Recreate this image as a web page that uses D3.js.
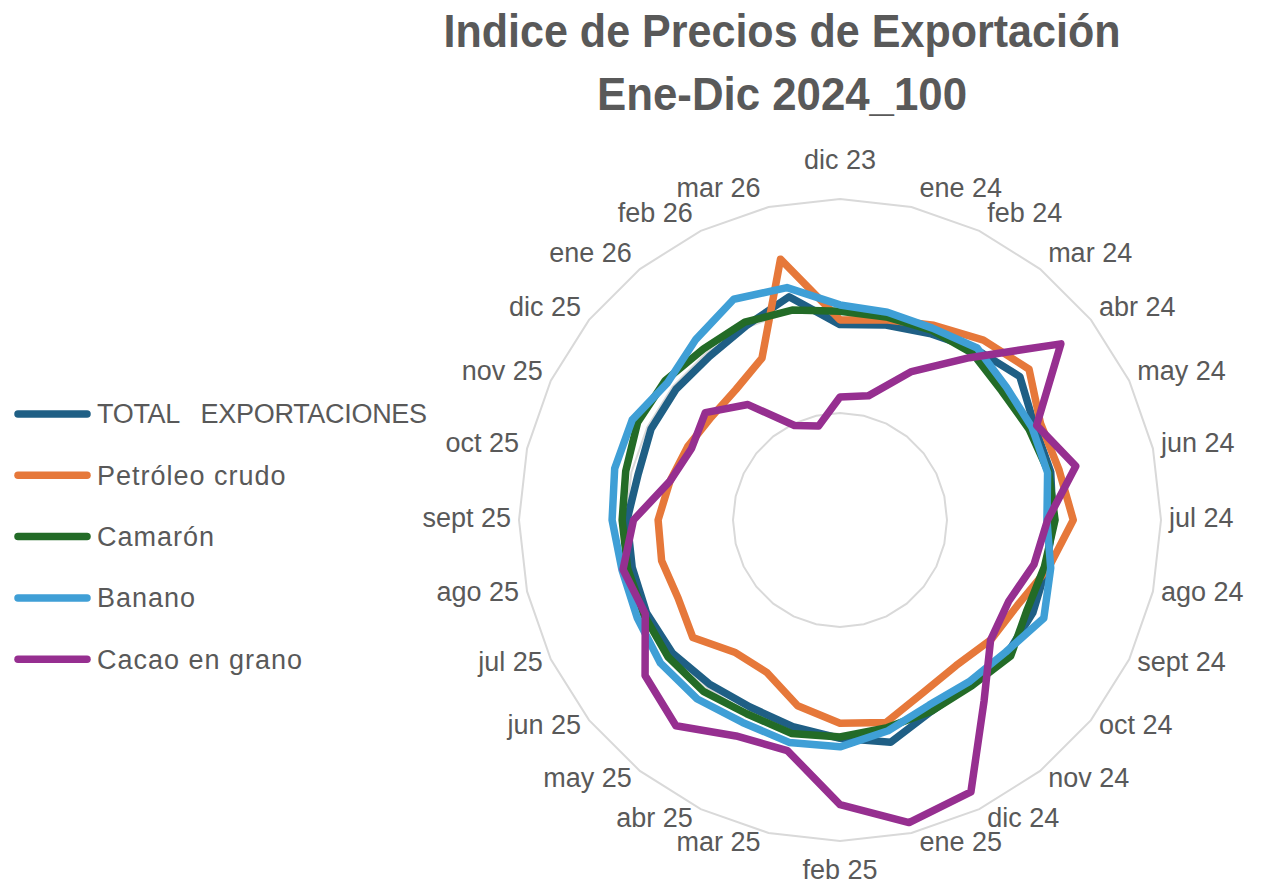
<!DOCTYPE html>
<html>
<head>
<meta charset="utf-8">
<script src="https://cdn.jsdelivr.net/npm/d3@7"></script>
<style>
  body { margin: 0; background: #fff; }
  text { font-family: "Liberation Sans", Arial, sans-serif; fill: #595959; }
</style>
</head>
<body>
<script>
// categories (months), clockwise from the top
var categories = ["dic 23", "ene 24", "feb 24", "mar 24", "abr 24", "may 24", "jun 24",
    "jul 24", "ago 24", "sept 24", "oct 24", "nov 24", "dic 24", "ene 25", "feb 25",
    "mar 25", "abr 25", "may 25", "jun 25", "jul 25", "ago 25", "sept 25", "oct 25",
    "nov 25", "dic 25", "ene 26", "feb 26", "mar 26"];

var seriesNames = ["TOTAL   EXPORTACIONES", "Petróleo crudo", "Camarón", "Banano", "Cacao en grano"];

var total    = [91.3, 93.5, 96.7, 102, 107.5, 101, 101, 99.5, 99, 100, 100, 98, 99, 106.5, 102,
                99, 97, 98, 100, 100.3, 99.6, 99.5, 96.7, 98, 98, 97.8, 100.8, 107];
var petroleo = [93.5, 96, 101, 107.5, 113, 104, 105, 109, 100, 92, 90, 87, 89.5, 97, 95,
                89, 79, 79, 88, 84, 85.5, 85, 81.5, 79, 77, 78, 84, 125];
var camaron  = [97.5, 97.3, 98.5, 99.5, 96.7, 98, 100, 100.5, 98, 97, 102, 99, 99, 99.5, 101.4,
                102.3, 100.5, 102.4, 102.7, 101.8, 101.8, 101.8, 102.7, 105, 104.5, 102.3, 102.6, 100.6];
var banano   = [100.5, 99.6, 99.5, 102.8, 99.5, 99.6, 99.5, 96.7, 101, 105.7, 99, 96.7, 96, 101, 106,
                106.6, 105, 107, 107.3, 105.2, 104.5, 106.5, 108, 107.8, 103, 108, 114.5, 111.4];
var cacao    = [57.5, 59.5, 77, 97, 132, 102, 113, 97, 93, 87.5, 90, 108, 141, 145, 133,
                110.5, 112, 123, 116.5, 101, 104, 96.5, 81.5, 77, 80.5, 69, 49, 45];

var ringValues = [50, 100, 150];
var colors = ["#1f5f85", "#e6783a", "#236b27", "#3f9fd6", "#962f90"];

var series = [total, petroleo, camaron, banano, cacao].map(function(v, i) {
    return {name: seriesNames[i], values: v, color: colors[i]};
});

var width = 1282, height = 896;
var cx = 840, cy = 520;

var svg = d3.select("body").append("svg")
    .attr("width", width)
    .attr("height", height);

// title
svg.append("text")
    .attr("x", 782).attr("y", 47)
    .attr("text-anchor", "middle")
    .attr("textLength", 677).attr("lengthAdjust", "spacingAndGlyphs")
    .style("font-size", "46px").style("font-weight", "bold")
    .text("Indice de Precios de Exportación");
svg.append("text")
    .attr("x", 782).attr("y", 110)
    .attr("text-anchor", "middle")
    .attr("textLength", 370).attr("lengthAdjust", "spacingAndGlyphs")
    .style("font-size", "46px").style("font-weight", "bold")
    .text("Ene-Dic 2024_100");

var r = d3.scaleLinear().domain([0, 150]).range([0, 321]);
var angle = d3.scaleLinear().domain([0, categories.length]).range([0, 2 * Math.PI]);

var g = svg.append("g")
    .attr("transform", "translate(" + cx + "," + cy + ")");

// grid rings (polygons)
g.append("g").attr("class", "rings")
    .selectAll("path")
    .data(ringValues)
    .enter().append("path")
    .attr("d", function(v) {
        return d3.lineRadial()
            .angle(function(d, i) { return angle(i); })
            .radius(r(v))
            .curve(d3.curveLinearClosed)(categories);
    })
    .attr("fill", "none")
    .attr("stroke", "#d9d9d9")
    .attr("stroke-width", 2);

// category labels
var rMax = r(150);
g.append("g").attr("class", "labels")
    .selectAll("text")
    .data(categories)
    .enter().append("text")
    .each(function(d, i) {
        var a = angle(i), s = Math.sin(a), c = Math.cos(a);
        var px = rMax * s, py = -rMax * c;
        var anchor = "middle", x = px, y;
        if (s > 0.05) { anchor = "start"; x = px + 8; }
        else if (s < -0.05) { anchor = "end"; x = px - 8; }
        if (anchor === "middle") {
            y = c > 0 ? py - 39 : py + 29;
        } else {
            y = py - 2 - c * (c > 0 ? 18 : 11);
        }
        d3.select(this)
            .attr("x", x).attr("y", y)
            .attr("dy", "0.35em")
            .attr("text-anchor", anchor)
            .style("font-size", "27px")
            .text(d);
    });

// series lines
var radial = d3.lineRadial()
    .angle(function(d, i) { return angle(i); })
    .radius(function(d) { return r(d); })
    .curve(d3.curveLinearClosed);

g.append("g").attr("class", "series")
    .selectAll("path")
    .data(series)
    .enter().append("path")
    .attr("d", function(d) { return radial(d.values); })
    .attr("fill", "none")
    .attr("stroke", function(d) { return d.color; })
    .attr("stroke-width", 7.5)
    .attr("stroke-linejoin", "round");

// legend
var legend = svg.append("g").attr("class", "legend")
    .selectAll("g")
    .data(series)
    .enter().append("g")
    .attr("transform", function(d, i) { return "translate(0," + (414 + i * 61.3) + ")"; });

legend.append("line")
    .attr("x1", 18).attr("x2", 87)
    .attr("stroke", function(d) { return d.color; })
    .attr("stroke-width", 7.5)
    .attr("stroke-linecap", "round");

legend.append("text")
    .attr("x", 97).attr("y", 0)
    .attr("dy", "0.35em")
    .style("font-size", "27px")
    .style("letter-spacing", function(d, i) { return i === 0 ? "-0.3px" : "1px"; })
    .style("white-space", "pre")
    .text(function(d) { return d.name; });
</script>
</body>
</html>
